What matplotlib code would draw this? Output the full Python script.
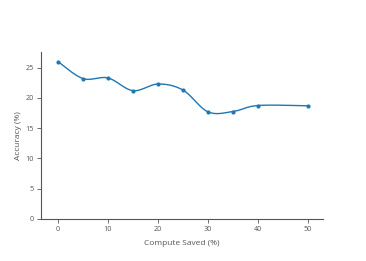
import numpy as np
import matplotlib
matplotlib.use("Agg")
import matplotlib.pyplot as plt

# data
compute_saved = [0, 5, 10, 15, 20, 25, 30, 35, 40, 50]
accuracy = [26.0, 23.2, 23.3, 21.2, 22.3, 21.3, 17.7, 17.75, 18.75, 18.7]
xticks = [0, 10, 20, 30, 40, 50]
yticks = [0, 5, 10, 15, 20, 25]

plt.rcParams['font.family'] = ['Open Sans', 'DejaVu Sans']

# smooth line through the points (catmull-rom style bezier, like a spline line)
def smooth(xs, ys, n=30):
    p = np.column_stack([xs, ys]).astype(float)
    out = [p[0]]
    for i in range(len(p) - 1):
        p0 = p[i - 1] if i > 0 else p[i]
        p3 = p[i + 2] if i + 2 < len(p) else p[i + 1]
        c1 = p[i] + (p[i + 1] - p0) / 6
        c2 = p[i + 1] - (p3 - p[i]) / 6
        t = np.linspace(0, 1, n)[1:, None]
        seg = ((1 - t) ** 3) * p[i] + 3 * ((1 - t) ** 2) * t * c1 + 3 * (1 - t) * t ** 2 * c2 + t ** 3 * p[i + 1]
        out.extend(seg)
    out = np.array(out)
    return out[:, 0], out[:, 1]

fig = plt.figure(figsize=(3.66, 2.61), dpi=100)
ax = fig.add_axes([0.112, 0.161, 0.7705, 0.64])

sx, sy = smooth(compute_saved, accuracy)
ax.plot(sx, sy, color='#1f77b4', lw=1.0)
ax.plot(compute_saved, accuracy, 'o', color='#1f77b4', ms=2.0)

ax.set_xlim(-3.4, 53)
ax.set_ylim(0, 27.6)
ax.set_xticks(xticks)
ax.set_yticks(yticks)
for s in ['top', 'right']:
    ax.spines[s].set_visible(False)
for s in ['left', 'bottom']:
    ax.spines[s].set_color('#555555')
    ax.spines[s].set_linewidth(0.8)
ax.tick_params(labelsize=5.2, colors='#555555', length=3, width=0.6, pad=2)
ax.set_xlabel('Compute Saved (%)', fontsize=6, color='#555555', labelpad=5)
ax.set_ylabel('Accuracy (%)', fontsize=6, color='#555555', labelpad=3)

fig.savefig('out.png', dpi=100)
